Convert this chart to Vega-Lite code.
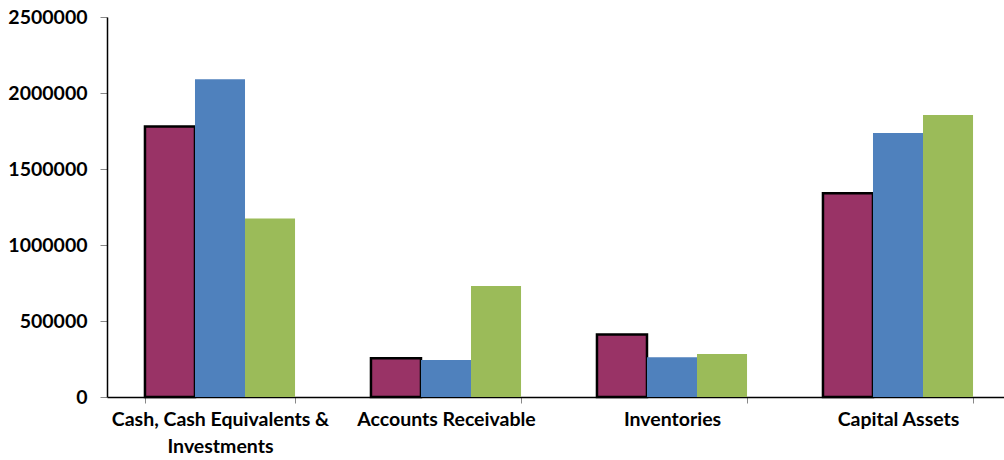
{
  "$schema": "https://vega.github.io/schema/vega-lite/v6.json",
  "autosize": {"type": "none"},
  "width": 904,
  "height": 380,
  "padding": {"left": 107, "top": 17, "right": 0, "bottom": 63},
  "background": "white",
  "config": {
    "view": {"stroke": null},
    "font": "Lato",
    "axis": {"labelFont": "Lato", "labelFontWeight": "bold", "labelColor": "#000000", "labelLimit": 400}
  },
  "data": {
    "values": [
      {"category": "Cash, Cash Equivalents & Investments", "series": "Series 1", "value": 1780000},
      {"category": "Cash, Cash Equivalents & Investments", "series": "Series 2", "value": 2090000},
      {"category": "Cash, Cash Equivalents & Investments", "series": "Series 3", "value": 1175000},
      {"category": "Accounts Receivable", "series": "Series 1", "value": 255000},
      {"category": "Accounts Receivable", "series": "Series 2", "value": 243000},
      {"category": "Accounts Receivable", "series": "Series 3", "value": 730000},
      {"category": "Inventories", "series": "Series 1", "value": 412000},
      {"category": "Inventories", "series": "Series 2", "value": 262000},
      {"category": "Inventories", "series": "Series 3", "value": 283000},
      {"category": "Capital Assets", "series": "Series 1", "value": 1340000},
      {"category": "Capital Assets", "series": "Series 2", "value": 1737000},
      {"category": "Capital Assets", "series": "Series 3", "value": 1855000}
    ]
  },
  "mark": {"type": "bar", "strokeWidth": 2.5, "strokeJoin": "miter"},
  "encoding": {
    "x": {
      "field": "category",
      "type": "nominal",
      "sort": null,
      "scale": {"paddingInner": 0.336, "paddingOuter": 0.168},
      "axis": {
        "title": null,
        "labelAngle": 0,
        "labelFontSize": 19.5,
        "tickBand": "extent",
        "domainColor": "#000000",
        "domainWidth": 1.5,
        "tickColor": "#888888",
        "tickSize": 6,
        "labelPadding": 7,
        "labelLineHeight": 27,
        "labelBaseline": "top",
        "labelExpr": "datum.label == 'Cash, Cash Equivalents & Investments' ? ['Cash, Cash Equivalents &', 'Investments'] : datum.label"
      }
    },
    "xOffset": {
      "field": "series",
      "type": "nominal",
      "scale": {"paddingInner": 0, "paddingOuter": 0}
    },
    "y": {
      "field": "value",
      "type": "quantitative",
      "scale": {"domain": [0, 2500000], "nice": false},
      "axis": {
        "title": null,
        "labelFontSize": 19.5,
        "values": [0, 500000, 1000000, 1500000, 2000000, 2500000],
        "format": "d",
        "grid": false,
        "domainColor": "#000000",
        "domainWidth": 1.5,
        "tickColor": "#888888",
        "tickSize": 7,
        "labelPadding": 13
      }
    },
    "color": {
      "field": "series",
      "type": "nominal",
      "scale": {"domain": ["Series 1", "Series 2", "Series 3"], "range": ["#993366", "#4F81BD", "#9BBB59"]},
      "legend": null
    },
    "stroke": {
      "field": "series",
      "type": "nominal",
      "scale": {"domain": ["Series 1", "Series 2", "Series 3"], "range": ["#000000", "transparent", "transparent"]},
      "legend": null
    }
  }
}
